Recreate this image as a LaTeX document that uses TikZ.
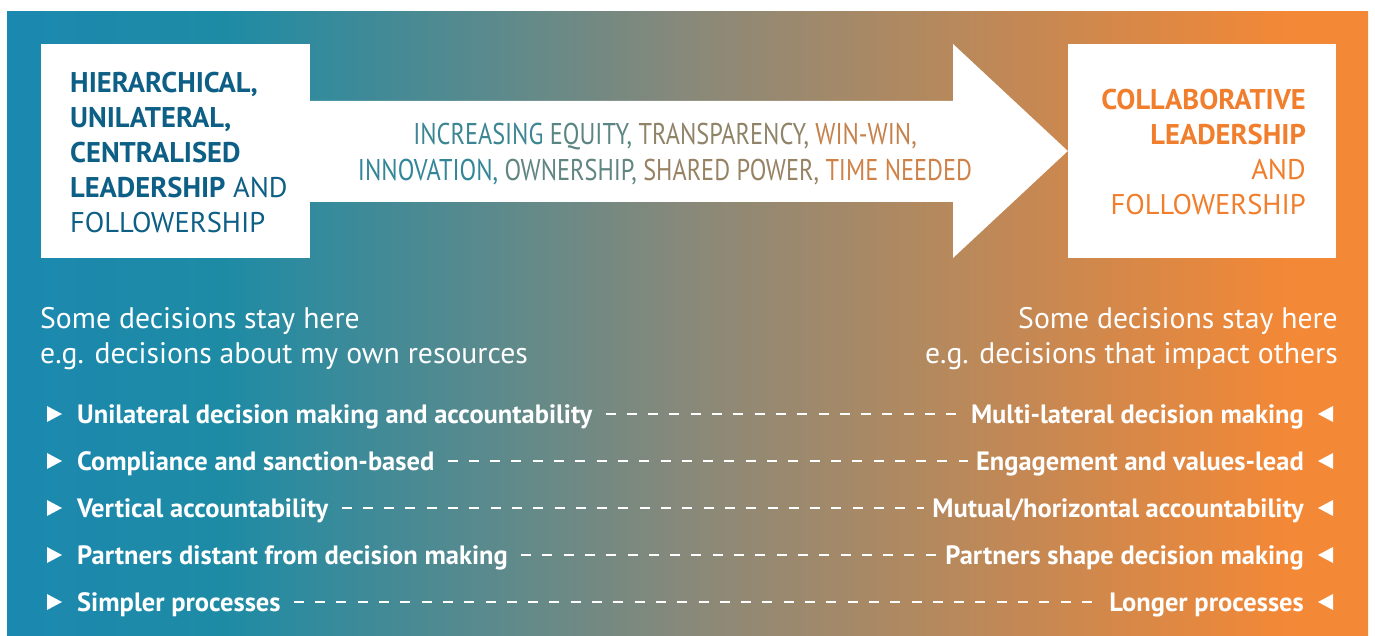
\documentclass[tikz,border=0pt]{standalone}
\usepackage{fontspec}
\setmainfont{PT Sans}
\newfontfamily\arrowfont{PT Sans}[FakeStretch=0.81]
\usetikzlibrary{positioning,calc}

\definecolor{bgblue}{RGB}{27,136,176}
\definecolor{bgteal}{RGB}{30,139,165}
\definecolor{bggray}{RGB}{136,137,122}
\definecolor{bgorange}{RGB}{243,136,54}
\definecolor{hierblue}{RGB}{14,95,134}
\definecolor{collaborange}{RGB}{240,126,44}
\definecolor{txtteal}{RGB}{25,135,165}
\definecolor{txtorange}{RGB}{232,128,58}

\pgfdeclarehorizontalshading{bgshade}{100bp}{color(0bp)=(bgblue); color(25bp)=(bgblue); color(33bp)=(bgteal); color(50bp)=(bggray); color(72bp)=(bgorange); color(100bp)=(bgorange)}

\tikzset{whitebox/.style={fill=white, inner sep=0pt}}
\tikzset{itemtext/.style={text=white, inner sep=0pt, text height=24pt, text depth=6pt,
  font=\bfseries\fontsize{26.5}{30}\selectfont}}
\tikzset{dashline/.style={white, line width=1.3pt, dash pattern=on 10pt off 11.3pt,
  shorten <=13pt, shorten >=8pt}}
\tikzset{note/.style={text=white, inner sep=0pt, font=\fontsize{29.7}{35.5}\selectfont}}

\begin{document}
\begin{tikzpicture}[x=1pt,y=-1pt]
\useasboundingbox (0,0) rectangle (1375,636);
\shade[shading=bgshade] (7,12) rectangle (1368,636);

% boxes
\node[whitebox, minimum width=269pt, minimum height=214pt] (hier) at (175.5,151) {};
\node[whitebox, minimum width=268pt, minimum height=214pt] (collab) at (1202,151) {};

% arrow
\fill[white] (hier.east |- 0,101) -- (953,101) -- (953,44) -- (collab.west)
  -- (953,258) -- (953,202) -- (hier.east |- 0,202) -- cycle;

\node[anchor=west, align=left, inner sep=0pt, text=hierblue,
  font=\fontsize{28.5}{35}\selectfont] (hiertxt) at (70,152)
  {\textbf{HIERARCHICAL,}\\ \textbf{UNILATERAL,}\\ \textbf{CENTRALISED}\\
   \textbf{LEADERSHIP} AND\\ FOLLOWERSHIP};
\node[anchor=east, align=right, inner sep=0pt, text=collaborange,
  font=\fontsize{28.5}{35}\selectfont] (collabtxt) at (1306,152)
  {\textbf{COLLABORATIVE}\\ \textbf{LEADERSHIP}\\ AND\\ FOLLOWERSHIP};

\node[align=center, inner sep=0pt, font=\arrowfont\fontsize{30}{36}\selectfont]
  (trend) at (665,154.5)
  {\textcolor{txtorange!17!txtteal}{INCREASING} \textcolor{txtorange!32!txtteal}{EQUITY,}
   \textcolor{txtorange!57!txtteal}{TRANSPARENCY,} \textcolor{txtorange!83!txtteal}{WIN-WIN,}\\
   \textcolor{txtorange!12!txtteal}{INNOVATION,} \textcolor{txtorange!35!txtteal}{OWNERSHIP,}
   \textcolor{txtorange!61!txtteal}{SHARED POWER,} \textcolor{txtorange!88!txtteal}{TIME NEEDED}};

% decisions
\node[note, anchor=north west, align=left] (stayl) at (40,307)
  {Some decisions stay here\\ e.g. decisions about my own resources};
\node[note, anchor=north east, align=right] (stayr) at (1338,307)
  {Some decisions stay here\\ e.g. decisions that impact others};

\foreach \i/\ltxt/\rtxt in {
  1/{Unilateral decision making and accountability}/{Multi-lateral decision making},
  2/{Compliance and sanction-based}/{Engagement and values-lead},
  3/{Vertical accountability}/{Mutual/horizontal accountability},
  4/{Partners distant from decision making}/{Partners shape decision making},
  5/{Simpler processes}/{Longer processes}}
{
  \pgfmathsetmacro\yy{423+47*(\i-1)}
  \node[itemtext, anchor=base west] (l\i) at (77,\yy) {\ltxt};
  \node[itemtext, anchor=base east] (r\i) at (1304,\yy) {\rtxt};
  \draw[dashline] (l\i) -- (r\i);
  \fill[white] (47,{\yy-17}) -- (62,{\yy-9}) -- (47,{\yy-1}) -- cycle;
  \fill[white] (1333,{\yy-17}) -- (1318,{\yy-9}) -- (1333,{\yy-1}) -- cycle;
}
\end{tikzpicture}
\end{document}
